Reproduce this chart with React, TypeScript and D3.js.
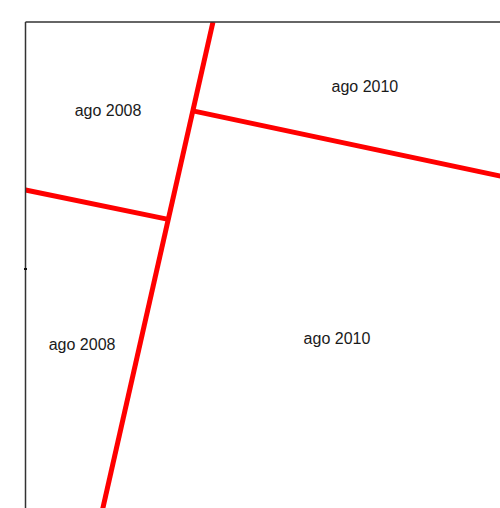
import React from "react";
import * as d3 from "d3";

// boundaries between periods, in plot units (y grows downward)
const boundaryNames = ["main", "upper", "lower"];
const boundaryX1 = [0.759, 0.678, 0.0];
const boundaryY1 = [0.0, 0.36, 0.68];
const boundaryX2 = [0.306, 2.0, 0.578];
const boundaryY2 = [2.0, 0.64, 0.799];

const labelTexts = ["ago 2008", "ago 2010", "ago 2008", "ago 2010"];
const labelX = [0.334, 1.374, 0.229, 1.261];
const labelY = [0.36, 0.263, 1.304, 1.283];

const yTicks = [1];

const width = 500;
const height = 508;

const App = () => {
  const x = d3.scaleLinear().domain([0, 2]).range([25.5, 519.5]);
  const y = d3.scaleLinear().domain([0, 2]).range([22, 516]);

  const line = d3
    .line<[number, number]>()
    .x((d) => x(d[0]))
    .y((d) => y(d[1]));

  const segs = boundaryNames.map((n, i) => ({
    name: n,
    pts: [
      [boundaryX1[i], boundaryY1[i]],
      [boundaryX2[i], boundaryY2[i]],
    ] as [number, number][],
  }));

  return (
    <svg
      width={width}
      height={height}
      style={{ position: "absolute", left: 0, top: 0, background: "#fff" }}
    >
      <defs>
        <clipPath id="plot">
          <rect x={x(0)} y={y(0)} width={width} height={height} />
        </clipPath>
      </defs>
      <g clipPath="url(#plot)">
        {segs.map((s) => (
          <path
            key={s.name}
            d={line(s.pts) || ""}
            stroke="#ff0000"
            strokeWidth={5}
            fill="none"
          />
        ))}
      </g>
      {labelTexts.map((t, i) => (
        <text
          key={i}
          x={x(labelX[i])}
          y={y(labelY[i])}
          textAnchor="middle"
          dominantBaseline="central"
          fontFamily="Liberation Sans, Arial, sans-serif"
          fontSize={16}
          fill="#1a1a1a"
        >
          {t}
        </text>
      ))}
      <line x1={x(0)} x2={x(0)} y1={y(0)} y2={height} stroke="#333" strokeWidth={1.5} />
      <line x1={x(0)} x2={width} y1={y(0)} y2={y(0)} stroke="#333" strokeWidth={1.5} />
      {yTicks.map((t) => (
        <line key={t} x1={x(0) - 1.5} x2={x(0) + 1.5} y1={y(t)} y2={y(t)} stroke="#111" strokeWidth={2} />
      ))}
    </svg>
  );
};

export default App;
